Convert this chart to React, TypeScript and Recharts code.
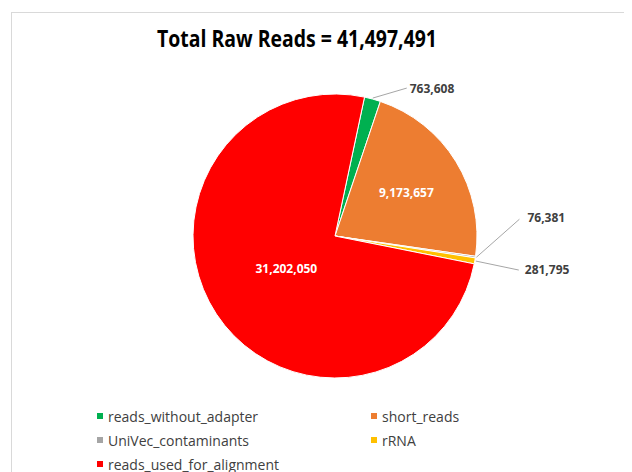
import { PieChart, Pie, Cell, Legend } from 'recharts';

const categories = ['reads_without_adapter', 'short_reads', 'UniVec_contaminants', 'rRNA', 'reads_used_for_alignment'];
const readCounts = [763608, 9173657, 76381, 281795, 31202050];
const sliceColors = ['#00B050', '#ED7D31', '#A5A5A5', '#FFC000', '#FF0000'];
const totalReads = 41497491;

const chartData = categories.map((name, i) => ({ name, value: readCounts[i] }));

// where each value label goes; the thin slices get leader lines like Excel did
const labelPlacement: any[] = [
  { kind: 'outside', lx: 34, ly: -10, tx: 37, ty: -10 },
  { kind: 'inside', r: 0.59 },
  { kind: 'outside', lx: 43, ly: -38, tx: 51, ty: -40 },
  { kind: 'outside', lx: 43, ly: 9, tx: 49, ty: 8 },
  { kind: 'inside', r: 0.41 },
];

const FONT = '"Open Sans", "Noto Sans", sans-serif';
const RADIAN = Math.PI / 180;
const fmt = (v: number) => v.toLocaleString('en-US');

function SliceLabel(props: any) {
  const { cx, cy, midAngle, outerRadius, index, value } = props;
  const p = labelPlacement[index];
  const cos = Math.cos(-midAngle * RADIAN);
  const sin = Math.sin(-midAngle * RADIAN);

  if (p.kind === 'inside') {
    const r = outerRadius * p.r;
    return (
      <text
        x={cx + r * cos}
        y={cy + r * sin}
        fill="#ffffff"
        textAnchor="middle"
        dominantBaseline="central"
        fontSize={12}
        fontWeight={700}
        fontFamily={FONT}
      >
        {fmt(value)}
      </text>
    );
  }

  const sx = cx + (outerRadius + 1) * cos;
  const sy = cy + (outerRadius + 1) * sin;
  return (
    <g>
      <path d={`M${sx},${sy}L${sx + p.lx},${sy + p.ly}`} stroke="#A6A6A6" strokeWidth={1} fill="none" />
      <text
        x={sx + p.tx}
        y={sy + p.ty}
        fill="#404040"
        textAnchor="start"
        dominantBaseline="central"
        fontSize={12}
        fontWeight={700}
        fontFamily={FONT}
      >
        {fmt(value)}
      </text>
    </g>
  );
}

function ReadsLegend() {
  return (
    <div style={{ position: 'relative', width: 616, height: 72, fontFamily: FONT, fontSize: 14, color: '#404040' }}>
      {categories.map((name, i) => {
        const col = i % 2;
        const row = Math.floor(i / 2);
        return (
          <div
            key={name}
            style={{
              position: 'absolute',
              left: col ? 359 : 85,
              top: row * 24,
              height: 20,
              display: 'flex',
              alignItems: 'center',
              whiteSpace: 'nowrap',
            }}
          >
            <span style={{ display: 'inline-block', width: 6, height: 6, background: sliceColors[i], marginRight: 5 }} />
            <span>{name}</span>
          </div>
        );
      })}
    </div>
  );
}

export default function App() {
  return (
    <div
      style={{
        position: 'relative',
        marginLeft: 3,
        marginTop: 4,
        width: 618,
        height: 480,
        boxSizing: 'border-box',
        border: '1px solid #D9D9D9',
        background: '#ffffff',
      }}
    >
      <svg width={616} height={50} style={{ position: 'absolute', left: 0, top: 0 }}>
        <text
          x={285}
          y={33.5}
          textAnchor="middle"
          fontSize={24}
          fontWeight={700}
          fontFamily={FONT}
          fill="#000000"
          textLength={280}
          lengthAdjust="spacingAndGlyphs"
        >
          {`Total Raw Reads = ${fmt(totalReads)}`}
        </text>
      </svg>
      <PieChart width={616} height={478} margin={{ top: 0, right: 0, bottom: 0, left: 0 }}>
        <Pie
          data={chartData}
          dataKey="value"
          nameKey="name"
          cx={323}
          cy={223}
          outerRadius={142}
          startAngle={78}
          endAngle={-282}
          stroke="#ffffff"
          strokeWidth={1}
          label={SliceLabel}
          labelLine={false}
          isAnimationActive={false}
        >
          {chartData.map((d, i) => (
            <Cell key={d.name} fill={sliceColors[i]} />
          ))}
        </Pie>
        <Legend
          verticalAlign="bottom"
          align="left"
          content={() => <ReadsLegend />}
          wrapperStyle={{ top: 393, bottom: 'auto', left: 0, width: 616 }}
        />
      </PieChart>
    </div>
  );
}
